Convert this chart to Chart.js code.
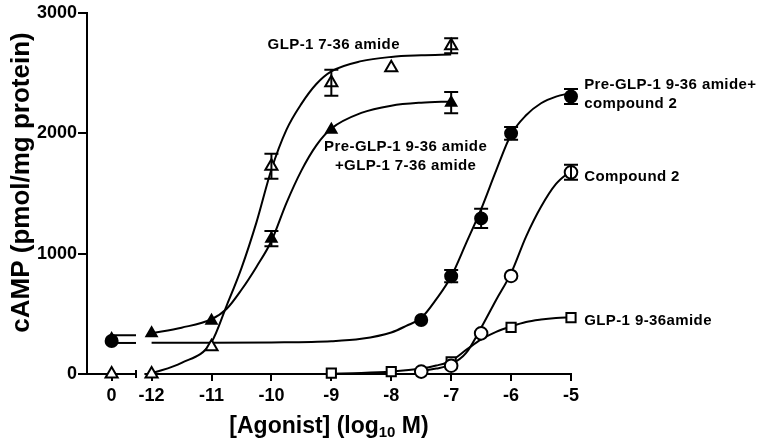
<!DOCTYPE html>
<html>
<head>
<meta charset="utf-8">
<script src="https://cdn.jsdelivr.net/npm/chart.js@4.4.1/dist/chart.umd.min.js"></script>
<style>
  html, body { margin: 0; padding: 0; background: #fff; }
  #wrap { width: 764px; height: 446px; }
</style>
</head>
<body>
<div id="wrap"><canvas id="chart" width="764" height="446"></canvas></div>
<script>
// log10 dose, cAMP (pmol/mg protein), SEM
const doseA = [-12, -11, -10, -9, -8, -7];          // GLP-1 7-36 amide
const camA = [0, 227, 1726, 2420, 2545, 2728];
const errA = [0, 0, 104, 108, 0, 62];
const ctrlA = 0;

const doseB = [-12, -11, -10, -9, -7];              // Pre-GLP-1 9-36 amide + GLP-1 7-36 amide
const camB = [338, 443, 1125, 2029, 2255];
const errB = [0, 0, 63, 0, 88];
const ctrlB = 290;

const doseC = [-7.5, -7, -6.5, -6, -5];             // Pre-GLP-1 9-36 amide + compound 2
const camC = [449, 813, 1293, 2000, 2306];
const errC = [0, 51, 80, 53, 62];
const ctrlC = 274;

const doseD = [-7.5, -7, -6.5, -6, -5];             // Compound 2
const camD = [20, 69, 338, 815, 1676];
const errD = [0, 0, 0, 0, 62];

const doseE = [-9, -8, -7, -6, -5];                 // GLP-1 9-36amide
const camE = [8, 20, 102, 388, 468];

// fitted curves
const fitXA = [-12, -11.5, -11, -10.75, -10.5, -10.25, -10, -9.75, -9.5, -9.25, -9, -8.5, -8, -7.5, -7];
const fitYA = [5, 92, 265, 565, 880, 1260, 1700, 2029, 2245, 2410, 2515, 2600, 2635, 2648, 2655];
const fitXB = [-12, -11.5, -11, -10.75, -10.5, -10.25, -10, -9.75, -9.5, -9.25, -9, -8.5, -8, -7.5, -7];
const fitYB = [338, 385, 455, 540, 700, 890, 1105, 1420, 1690, 1900, 2040, 2170, 2230, 2255, 2265];
const fitXC = [-12, -11, -10, -9, -8.5, -8, -7.75, -7.5, -7.25, -7, -6.75, -6.5, -6.25, -6, -5.75, -5.5, -5.25, -5];
const fitYC = [260, 260, 262, 272, 292, 345, 400, 465, 620, 810, 1087, 1370, 1690, 1990, 2150, 2250, 2305, 2335];
const fitXD = [-7.5, -7.25, -7, -6.75, -6.5, -6.25, -6, -5.75, -5.5, -5.25, -5];
const fitYD = [25, 45, 80, 175, 384, 615, 838, 1142, 1390, 1580, 1690];
const fitXE = [-9, -8.5, -8, -7.5, -7.25, -7, -6.75, -6.5, -6.25, -6, -5.75, -5.5, -5.25, -5];
const fitYE = [3, 8, 20, 45, 70, 110, 200, 287, 350, 395, 432, 452, 465, 472];
const fitBottomB = 322;
const fitBottomC = 258;

const xTickLabels = ['0', '-12', '-11', '-10', '-9', '-8', '-7', '-6', '-5'];
const yTicks = [0, 1000, 2000, 3000];

// where the "0" (no agonist) group sits on the broken axis
const ZERO_X = -12.667;
const BREAK_X = -12.26;
const RESUME_X = -12.12;
const xTickValues = [ZERO_X, -12, -11, -10, -9, -8, -7, -6, -5];

const FONT = "'Liberation Sans', Arial, sans-serif";
Chart.defaults.font.family = FONT;
Chart.defaults.color = '#000';

const notes = [
  { text: 'GLP-1 7-36 amide', x: -8.96, y: 2736, align: 'center' },
  { text: 'Pre-GLP-1 9-36 amide', x: -7.76, y: 1888, align: 'center' },
  { text: '+GLP-1 7-36 amide', x: -7.76, y: 1733, align: 'center' },
  { text: 'Pre-GLP-1 9-36 amide+', x: -4.78, y: 2404, align: 'left' },
  { text: 'compound 2', x: -4.78, y: 2243, align: 'left' },
  { text: 'Compound 2', x: -4.78, y: 1641, align: 'left' },
  { text: 'GLP-1 9-36amide', x: -4.78, y: 443, align: 'left' }
];

function pts(xs, ys) {
  return xs.map((x, i) => ({ x: x, y: ys[i] }));
}

const marker = { showLine: false, borderColor: '#000', borderWidth: 2, clip: false, order: 0 };
const curve = { showLine: true, pointRadius: 0, borderColor: '#000', borderWidth: 2,
  cubicInterpolationMode: 'monotone', clip: false, order: 1, fill: false };

const figPlugin = {
  id: 'figPlugin',
  beforeDatasetsDraw(chart) {
    const { ctx, chartArea, scales: { x } } = chart;
    const yb = chartArea.bottom;
    const xb = x.getPixelForValue(BREAK_X);
    ctx.save();
    ctx.strokeStyle = '#000';
    ctx.lineWidth = 2;
    ctx.beginPath();
    ctx.moveTo(chartArea.left, yb);
    ctx.lineTo(xb, yb);
    ctx.moveTo(xb, yb - 4);
    ctx.lineTo(xb, yb + 4);
    ctx.moveTo(x.getPixelForValue(RESUME_X), yb);
    ctx.lineTo(chartArea.right + 1, yb);
    ctx.stroke();
    ctx.restore();
  },
  afterDatasetsDraw(chart) {
    const { ctx, scales: { x, y } } = chart;
    ctx.save();
    ctx.strokeStyle = '#000';
    ctx.lineWidth = 2;
    chart.data.datasets.forEach(ds => {
      if (!ds.errors) return;
      ds.data.forEach((p, i) => {
        const e = ds.errors[i];
        if (!e) return;
        const px = x.getPixelForValue(p.x);
        const top = y.getPixelForValue(p.y + e);
        const bot = y.getPixelForValue(p.y - e);
        ctx.beginPath();
        ctx.moveTo(px, top); ctx.lineTo(px, bot);
        ctx.moveTo(px - 7, top); ctx.lineTo(px + 7, top);
        ctx.moveTo(px - 7, bot); ctx.lineTo(px + 7, bot);
        ctx.stroke();
      });
    });
    ctx.restore();
  },
  afterDraw(chart) {
    const { ctx, chartArea, scales: { x, y } } = chart;
    ctx.save();
    ctx.fillStyle = '#000';
    ctx.textBaseline = 'middle';
    ctx.font = 'bold 15px ' + FONT;
    ctx.letterSpacing = '0.4px';
    notes.forEach(n => {
      ctx.textAlign = n.align;
      ctx.fillText(n.text, x.getPixelForValue(n.x), y.getPixelForValue(n.y));
    });
    ctx.letterSpacing = '0px';

    // y title, sits a bit above the middle of the axis
    ctx.save();
    ctx.translate(22, (chartArea.top + chartArea.bottom) / 2 - 11);
    ctx.rotate(-Math.PI / 2);
    ctx.textAlign = 'center';
    ctx.font = 'bold 26px ' + FONT;
    ctx.fillText('cAMP (pmol/mg protein)', 0, 0);
    ctx.restore();

    // x title with subscript
    const big = 'bold 23px ' + FONT, small = 'bold 15px ' + FONT;
    const p1 = '[Agonist] (log', p2 = '10', p3 = ' M)';
    ctx.font = big; const w1 = ctx.measureText(p1).width, w3 = ctx.measureText(p3).width;
    ctx.font = small; const w2 = ctx.measureText(p2).width;
    let tx = (chartArea.left + chartArea.right) / 2 - (w1 + w2 + w3) / 2;
    const ty = chartArea.bottom + 53;
    ctx.textAlign = 'left';
    ctx.font = big; ctx.fillText(p1, tx, ty); tx += w1;
    ctx.font = small; ctx.fillText(p2, tx, ty + 6); tx += w2;
    ctx.font = big; ctx.fillText(p3, tx, ty);
    ctx.restore();
  }
};

new Chart(document.getElementById('chart'), {
  type: 'scatter',
  data: {
    datasets: [
      { ...marker, label: 'Pre-GLP-1 9-36 amide+compound 2',
        data: [{ x: ZERO_X, y: ctrlC }, ...pts(doseC, camC)], errors: [0, ...errC],
        pointStyle: 'circle', pointRadius: 6, backgroundColor: '#000' },
      { ...marker, label: 'GLP-1 7-36 amide',
        data: [{ x: ZERO_X, y: ctrlA }, ...pts(doseA, camA)], errors: [0, ...errA],
        pointStyle: 'triangle', pointRadius: 7, backgroundColor: '#fff' },
      { ...marker, label: 'Pre-GLP-1 9-36 amide+GLP-1 7-36 amide',
        data: [{ x: ZERO_X, y: ctrlB }, ...pts(doseB, camB)], errors: [0, ...errB],
        pointStyle: 'triangle', pointRadius: 6, backgroundColor: '#000' },
      { ...marker, label: 'Compound 2', data: pts(doseD, camD), errors: errD,
        pointStyle: 'circle', pointRadius: 6.3, backgroundColor: '#fff' },
      { ...marker, label: 'GLP-1 9-36amide', data: pts(doseE, camE),
        pointStyle: 'rect', pointRadius: 6.5, backgroundColor: '#fff' },

      { ...curve, data: pts(fitXA, fitYA) },
      { ...curve, data: pts(fitXB, fitYB) },
      { ...curve, data: pts(fitXC, fitYC) },
      { ...curve, data: pts(fitXD, fitYD) },
      { ...curve, data: pts(fitXE, fitYE) },
      { ...curve, cubicInterpolationMode: 'default', data: [{ x: ZERO_X, y: fitBottomB }, { x: BREAK_X, y: fitBottomB }] },
      { ...curve, cubicInterpolationMode: 'default', data: [{ x: ZERO_X, y: fitBottomC }, { x: BREAK_X, y: fitBottomC }] }
    ]
  },
  options: {
    responsive: false,
    animation: false,
    layout: { padding: { top: 13, right: 193, left: 0, bottom: 0 } },
    plugins: { legend: { display: false }, tooltip: { enabled: false } },
    scales: {
      x: {
        type: 'linear',
        min: -13.078,
        max: -5,
        afterFit(scale) { scale.height = 72; },
        afterBuildTicks(scale) { scale.ticks = xTickValues.map(v => ({ value: v })); },
        ticks: {
          autoSkip: false,
          maxRotation: 0,
          padding: 4,
          font: { size: 18, weight: 'bold' },
          callback: (v, i) => xTickLabels[i]
        },
        grid: { display: true, drawOnChartArea: false, drawTicks: true, tickLength: 7, color: '#000', lineWidth: 2 },
        border: { display: false }
      },
      y: {
        min: 0,
        max: 3000,
        afterFit(scale) { scale.width = 87; },
        afterBuildTicks(scale) { scale.ticks = yTicks.map(v => ({ value: v })); },
        ticks: { padding: 1, font: { size: 18, weight: 'bold' }, callback: v => String(v) },
        grid: { display: true, drawOnChartArea: false, drawTicks: true, tickLength: 9, color: '#000', lineWidth: 2 },
        border: { display: true, color: '#000', width: 2 }
      }
    }
  },
  plugins: [figPlugin]
});
</script>
</body>
</html>
